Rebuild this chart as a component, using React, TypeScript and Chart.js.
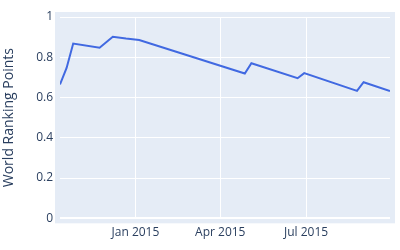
import React, { useEffect, useRef } from "react";
import { Chart, registerables } from "chart.js";

Chart.register(...registerables);

const dates: string[] = [
  "2014-10-13", "2014-10-20", "2014-10-27", "2014-11-24", "2014-12-08",
  "2014-12-22", "2015-01-05", "2015-04-27", "2015-05-04", "2015-06-22",
  "2015-06-29", "2015-08-24", "2015-08-31", "2015-09-28",
];
const points: number[] = [
  0.665, 0.747, 0.868, 0.847, 0.902,
  0.893, 0.886, 0.719, 0.770, 0.696,
  0.721, 0.633, 0.676, 0.632,
];
const xTickDates: string[] = ["2015-01-01", "2015-04-01", "2015-07-01"];
const xTickLabels: string[] = ["Jan 2015", "Apr 2015", "Jul 2015"];
const yTicks: number[] = [0, 0.2, 0.4, 0.6, 0.8, 1];
const yTitle = "World Ranking Points";

const toTs = (s: string) => {
  const [y, m, d] = s.split("-").map(Number);
  return Date.UTC(y, m - 1, d);
};

const bgPlugin = {
  id: "plotBg",
  beforeDraw(chart: any) {
    const { ctx, chartArea } = chart;
    if (!chartArea) return;
    ctx.save();
    ctx.fillStyle = "#E5ECF6";
    ctx.fillRect(
      chartArea.left - 5,
      chartArea.top - 5,
      chartArea.right - chartArea.left + 10,
      chartArea.bottom - chartArea.top + 10
    );
    ctx.restore();
  },
};

export default function App() {
  const ref = useRef<HTMLCanvasElement | null>(null);

  useEffect(() => {
    if (!ref.current) return;
    const font = { family: "'Open Sans', sans-serif", size: 12 };
    const color = "#2a3f5f";
    const chart = new Chart(ref.current, {
      type: "line",
      data: {
        datasets: [
          {
            data: dates.map((d, i) => ({ x: toTs(d), y: points[i] })),
            borderColor: "#4169E1",
            borderWidth: 2,
            pointRadius: 0,
            tension: 0,
            fill: false,
          },
        ],
      },
      options: {
        animation: false,
        responsive: false,
        devicePixelRatio: 1,
        layout: { padding: { left: 0, right: 10, top: 17, bottom: 0 } },
        plugins: { legend: { display: false }, tooltip: { enabled: false } },
        scales: {
          x: {
            type: "linear",
            min: toTs(dates[0]),
            max: toTs(dates[dates.length - 1]),
            border: { display: false },
            grid: { color: "#ffffff", lineWidth: 1, drawTicks: false },
            afterBuildTicks: (scale: any) => {
              scale.ticks = xTickDates.map((d) => ({ value: toTs(d) }));
            },
            afterFit: (scale: any) => {
              scale.height = 31.7;
            },
            ticks: {
              autoSkip: false,
              maxRotation: 0,
              padding: 7,
              font,
              color,
              callback: (_v: any, i: number) => xTickLabels[i],
            },
          },
          y: {
            type: "linear",
            min: 0,
            max: 1,
            border: { display: false },
            grid: {
              color: "#ffffff",
              lineWidth: (c: any) => (c.tick && c.tick.value === 0 ? 2 : 1),
              drawTicks: false,
            },
            afterBuildTicks: (scale: any) => {
              scale.ticks = yTicks.map((v) => ({ value: v }));
            },
            afterFit: (scale: any) => {
              scale.width = 60;
            },
            ticks: {
              padding: 7,
              font,
              color,
              callback: (v: any) => String(Number(Number(v).toFixed(1))),
            },
            title: {
              display: true,
              text: yTitle,
              color,
              font: { family: "'Open Sans', sans-serif", size: 14 },
              padding: { top: 1, bottom: 0 },
            },
          },
        },
      },
      plugins: [bgPlugin],
    });
    return () => chart.destroy();
  }, []);

  return (
    <div style={{ position: "absolute", left: 0, top: 0, width: 400, height: 250, background: "#fff" }}>
      <canvas ref={ref} width={400} height={250} style={{ width: 400, height: 250 }} />
    </div>
  );
}
